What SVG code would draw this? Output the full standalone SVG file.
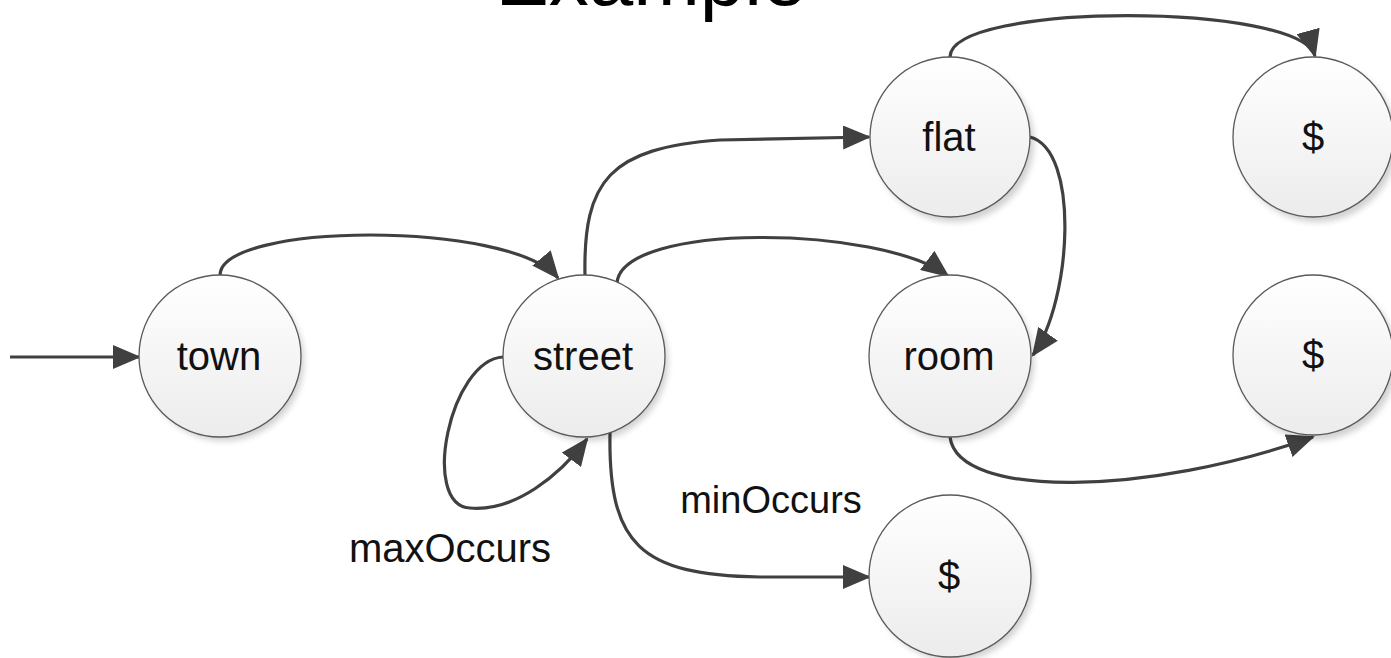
<svg xmlns="http://www.w3.org/2000/svg" width="1391" height="658" viewBox="0 0 1391 658">
<style>
.node{fill:url(#g);stroke:#5a5a5a;stroke-width:1.3}
.shadow{fill:#000;opacity:0.18;filter:url(#blur)}
.lbl{font-family:"Liberation Sans",Arial,sans-serif;font-size:40px;fill:#111;text-anchor:middle}
.edge{fill:none;stroke:#404040;stroke-width:3.2;marker-end:url(#arr)}
.title{font-family:"Liberation Sans",Arial,sans-serif;font-size:80px;fill:#000;text-anchor:middle}
</style>
<defs>
<linearGradient id="g" x1="0" y1="0" x2="0" y2="1">
<stop offset="0" stop-color="#ffffff"/>
<stop offset="1" stop-color="#ececec"/>
</linearGradient>
<filter id="blur" x="-20%" y="-20%" width="140%" height="140%"><feGaussianBlur stdDeviation="3"/></filter>
<marker id="arr" viewBox="0 0 28 24" refX="26" refY="12" markerWidth="28" markerHeight="24" markerUnits="userSpaceOnUse" orient="auto">
<path d="M0,0 L28,12 L0,24 z" fill="#404040"/>
</marker>
</defs>
<rect width="1391" height="658" fill="#fff"/>
<text class="title" x="651" y="5">Example</text>

<g id="connectors">
<path class="edge" d="M10,357 L139,357"/>
<path class="edge" d="M220,276 C218,222 510,220 558,278"/>
<path class="edge" d="M585,276 C583,180 610,148 720,140 L869,137"/>
<path class="edge" d="M617,283 C622,222 880,225 948,276"/>
<path class="edge" d="M950,57 C950,2 1300,2 1315,56"/>
<path class="edge" d="M1030,137 C1080,150 1072,300 1033,355"/>
<path class="edge" d="M503,357 C450,360 420,505 470,508 C515,512 560,475 587,439"/>
<path class="edge" d="M610,432 C608,545 640,575 760,577 L869,577"/>
<path class="edge" d="M950,437 C958,500 1150,495 1313,437"/>
</g>

<g id="town"><circle class="shadow" cx="224" cy="361" r="80"/><circle class="node" cx="220" cy="356" r="81"/><text class="lbl" x="219" y="370">town</text></g>
<g id="street"><circle class="shadow" cx="588" cy="361" r="80"/><circle class="node" cx="584" cy="356" r="81"/><text class="lbl" x="583" y="370">street</text></g>
<g id="flat"><circle class="shadow" cx="954" cy="142" r="80"/><circle class="node" cx="950" cy="137" r="80"/><text class="lbl" x="949" y="151">flat</text></g>
<g id="room"><circle class="shadow" cx="954" cy="361" r="80"/><circle class="node" cx="950" cy="356" r="81"/><text class="lbl" x="949" y="370">room</text></g>
<g id="end1"><circle class="shadow" cx="1317" cy="142" r="80"/><circle class="node" cx="1313" cy="137" r="80"/><text class="lbl" x="1313" y="151">$</text></g>
<g id="end2"><circle class="shadow" cx="1317" cy="360" r="80"/><circle class="node" cx="1313" cy="355" r="80"/><text class="lbl" x="1313" y="369">$</text></g>
<g id="end3"><circle class="shadow" cx="954" cy="581" r="80"/><circle class="node" cx="950" cy="576" r="81"/><text class="lbl" x="949" y="590">$</text></g>

<text class="lbl" x="450" y="562">maxOccurs</text>
<text class="lbl" x="771" y="513" style="font-size:38px">minOccurs</text>
</svg>
